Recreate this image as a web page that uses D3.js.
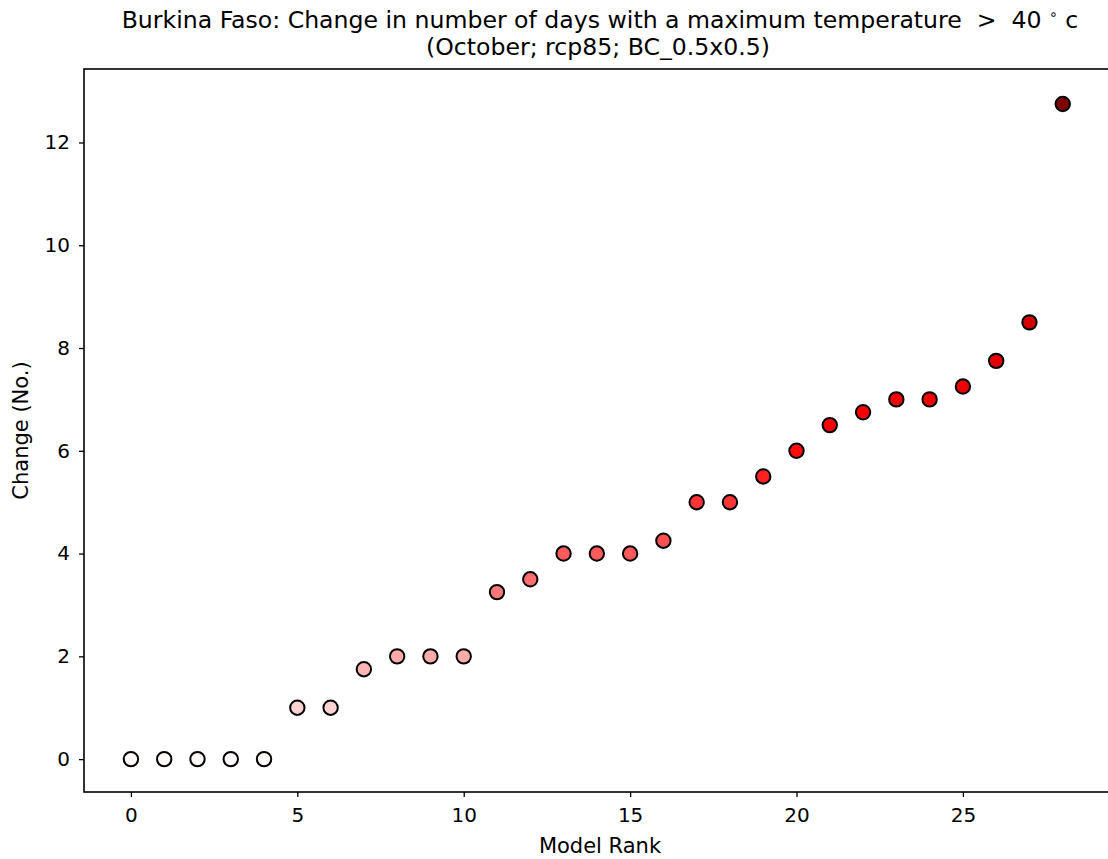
<!DOCTYPE html>
<html><head><meta charset="utf-8">
<script src="https://cdn.jsdelivr.net/npm/d3@7"></script>
<style>body{margin:0;background:#fff;}svg{display:block;font-family:"DejaVu Sans",sans-serif;}</style>
</head><body><svg id="c" width="1108" height="859"></svg>
<script>
const ranks = d3.range(0, 29);
const values = [0,0,0,0,0,1,1,1.75,2,2,2,3.25,3.5,4,4,4,4.25,5,5,5.5,6,6.5,6.75,7,7,7.25,7.75,8.5,12.75];
const xTicks = [0,5,10,15,20,25];
const yTicks = [0,2,4,6,8,10,12];
const titleLine1 = "Burkina Faso: Change in number of days with a maximum temperature";
const titleLine2 = "(October; rcp85; BC_0.5x0.5)";
const xLabel = "Model Rank", yLabel = "Change (No.)";

const svg = d3.select("#c");
const L=84, R=1109, T=69, B=792;
const x = d3.scaleLinear().domain([-1.41, 29.39]).range([L, R]);
const y = d3.scaleLinear().domain([-0.64, 13.43]).range([B, T]);
const color = d3.scaleLinear().domain([0, 6.3, 12.75]).range(["#fffafa", "#ff0000", "#800000"]).clamp(true);

const tfs = 20, lfs = 21, hfs = 23.6;
const xa = svg.append("g").attr("transform",`translate(0,${B})`)
  .call(d3.axisBottom(x).tickValues(xTicks).tickSize(5).tickPadding(11).tickFormat(d3.format("d")));
const ya = svg.append("g").attr("transform",`translate(${L},0)`)
  .call(d3.axisLeft(y).tickValues(yTicks).tickSize(5).tickPadding(9).tickFormat(d3.format("d")));
[xa, ya].forEach(a => {
  a.selectAll("text").attr("font-size", tfs).attr("font-family","DejaVu Sans").attr("fill","#000");
  a.selectAll("line").attr("stroke","#000").attr("stroke-width",1.3);
  a.select(".domain").remove();
});
svg.append("rect").attr("x",L).attr("y",T).attr("width",R-L).attr("height",B-T)
  .attr("fill","none").attr("stroke","#000").attr("stroke-width",1.6);

svg.append("g").selectAll("circle").data(ranks).join("circle")
  .attr("cx", d => x(d)).attr("cy", d => y(values[d])).attr("r", 7.2)
  .attr("fill", d => color(values[d])).attr("stroke","#000").attr("stroke-width",2);

const t1 = svg.append("text").attr("x", 600).attr("y", 28).attr("text-anchor","middle").attr("font-size", hfs);
t1.append("tspan").text(titleLine1 + " \u00A0>\u00A0 40 ");
t1.append("tspan").attr("dy", -9).attr("font-size", 14).text("\u2218");
t1.append("tspan").attr("dy", 9).text(" c");
svg.append("text").attr("x", 598).attr("y", 55).attr("text-anchor","middle").attr("font-size", hfs).text(titleLine2);

svg.append("text").attr("x", 600).attr("y", 853).attr("text-anchor","middle").attr("font-size", lfs).text(xLabel);
svg.append("text").attr("transform",`translate(28,${(T+B)/2}) rotate(-90)`).attr("text-anchor","middle").attr("font-size", lfs).text(yLabel);
</script></body></html>
